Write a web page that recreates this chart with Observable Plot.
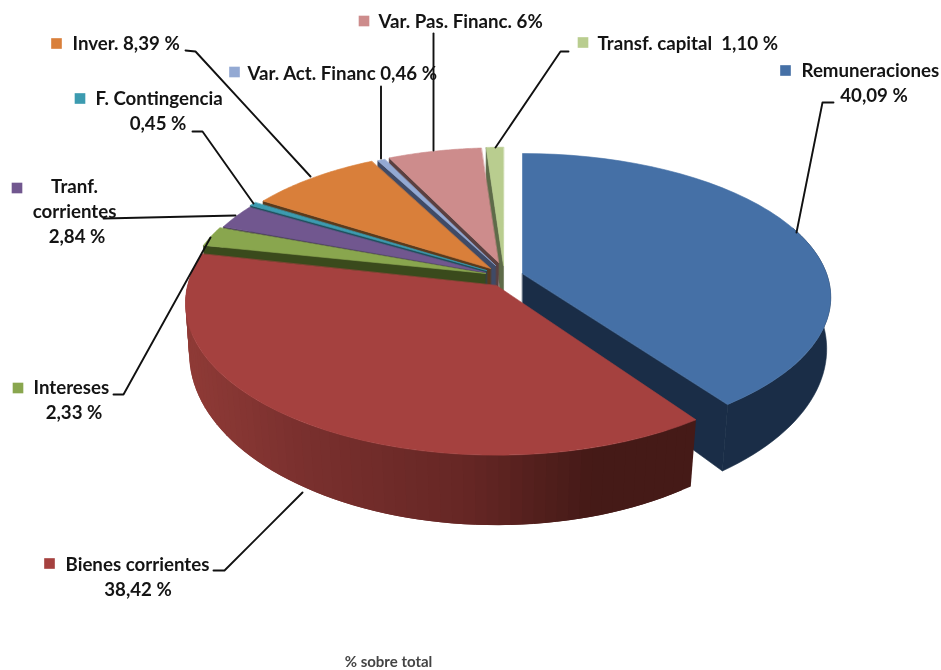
<!DOCTYPE html>
<html><head><meta charset="utf-8">
<style>html,body{margin:0;padding:0;background:#fff}svg{display:block}</style>
<script src="https://cdn.jsdelivr.net/npm/d3@7"></script>
<script src="https://cdn.jsdelivr.net/npm/@observablehq/plot@0.6"></script>
</head><body><div id="chart"></div>
<script>
// ---- data (clockwise from the top of the pie)
const categories = ["Remuneraciones","Bienes corrientes","Intereses","Tranf. corrientes","F. Contingencia","Inver.","Var. Act. Financ","Var. Pas. Financ.","Transf. capital"];
const shares = [40.09,38.42,2.33,2.84,0.45,8.39,0.46,6,1.10];

// ---- styles
const topColors  = ["#4570a6","#a5413f","#89a64e","#71578f","#3c9bb0","#d97f3a","#93a9d3","#cd8c8c","#b9cd8f"];
const wallColors = ["#1a2d47","#451a17","#3a4a1c","#3c2d50","#1f4f5c","#5a3a1c","#3f4a66","#5b4040","#5e6b49"];

// ---- pie geometry: apex, radii and perspective of each exploded slice
const geometry = [
  {cx:522,cy:273,A:304,B:139.8,k:.165},
  {cx:496,cy:285,A:309,B:150,k:.116},
  {cx:485,cy:273,A:296,B:134,k:.116},
  {cx:485,cy:272,A:292,B:134,k:.116},
  {cx:486,cy:270,A:292,B:134,k:.116},
  {cx:490,cy:268,A:287,B:133,k:.116},
  {cx:495,cy:265,A:284,B:130,k:.116},
  {cx:498,cy:262,A:280,B:128,k:.116},
  {cx:503,cy:265,A:280,B:132,k:.116}
];
const rad = Math.PI/180;
const topPoint = (g,a) => {
  const u = Math.sin(a*rad), v = Math.cos(a*rad), w = 1+g.k*v;
  return [g.cx+g.A*u/w, g.cy-g.B*v/w];
};
const botPoint = (g,a) => {
  const [x,y] = topPoint(g,a), v = Math.cos(a*rad);
  return [g.cx+(x-g.cx)*(.99+.02*v), y+52-18*v];
};
const botApex = g => [g.cx, g.cy+52];

const total = d3.sum(shares);
const ends = d3.cumsum(shares).map(c => c/total*360);
const starts = ends.map((e,i) => i ? ends[i-1] : 0);
const arc = (a0,a1,f,g) => d3.range(0,41).map(i => f(g,a0+(a1-a0)*i/40));

// ---- build filled faces, back to front
let fid = 0;
const face = (list,pts,fill) => { fid++; for (const [x,y] of pts) list.push({id:fid,x,y,fill}); };
const backFaces = [], bands = [], frontFaces = [];
const topFace = (list,i) => face(list,[[geometry[i].cx,geometry[i].cy], ...arc(starts[i],ends[i],topPoint,geometry[i])], topColors[i]);

// Remuneraciones: outer wall, cut wall, top
{
  const g = geometry[0];
  face(backFaces,[...arc(70,ends[0],topPoint,g), ...arc(70,ends[0],botPoint,g).reverse()], wallColors[0]);
  face(backFaces,[[g.cx,g.cy], topPoint(g,ends[0]), botPoint(g,ends[0]), botApex(g)], wallColors[0]);
  topFace(backFaces,0);
}
// small slices, last to first: cut wall then top
for (let i = categories.length-1; i >= 2; i--) {
  const g = geometry[i];
  face(backFaces,[[g.cx,g.cy], topPoint(g,starts[i]), botPoint(g,starts[i]), botApex(g)], wallColors[i]);
  topFace(backFaces,i);
}
// Bienes corrientes: shaded wall (bands overlap so no seams), then top
{
  const g = geometry[1];
  const shade = d3.scaleLinear().domain([190,300,470,590,690]).range(["#8e3a36","#7a302e","#652624","#451a17","#451a17"]);
  const n = 70, a0 = starts[1], a1 = 282, step = (a1-a0)/n;
  for (let j = 0; j < n; j++) {
    const p = a0+step*j, q = j < n-1 ? p+step*2 : p+step;
    const [mx] = topPoint(g,p+step/2);
    face(bands,[topPoint(g,p),topPoint(g,q),botPoint(g,q),botPoint(g,p)], shade(mx));
  }
  topFace(frontFaces,1);
}

// ---- annotation layout
const leaders = [
  {n:"Remuneraciones",p:[[833,102],[822,102],[796,232]]},
  {n:"Bienes",p:[[213,570],[224,570],[302,492]]},
  {n:"Intereses",p:[[113,394],[123,394],[210,237]]},
  {n:"Tranf",p:[[103,218],[235,215]]},
  {n:"F. Cont",p:[[192,131],[202,131],[253,203]]},
  {n:"Inver",p:[[185,50],[195,51],[310,176]]},
  {n:"Var Act",p:[[380.5,86],[380.5,158]]},
  {n:"Var Pas",p:[[433,33],[433,150]]},
  {n:"Transf",p:[[568,51],[560,51],[495,147]]}
].flatMap(l => l.p.map(([x,y]) => ({n:l.n,x,y})));

const keys = [
  {i:0,x:785,y:70},{i:1,x:49,y:563},{i:2,x:17.5,y:387.5},{i:3,x:16.5,y:187.5},
  {i:4,x:79.5,y:98},{i:5,x:56,y:43},{i:6,x:234,y:71.5},{i:7,x:363.5,y:20.5},{i:8,x:582.5,y:42}
];
const startLabels = [
  {t:"Remuneraciones",x:801,y:71},{t:"Bienes corrientes",x:65,y:565},{t:"Intereses",x:33,y:388},
  {t:"F. Contingencia",x:95,y:99},{t:"Inver. 8,39 %",x:72,y:44},{t:"Var. Act. Financ 0,46 %",x:247,y:74},
  {t:"Var. Pas. Financ. 6%",x:378,y:22},{t:"Transf. capital  1,10 %",x:597,y:44}
];
const midLabels = [
  {t:"40,09 %",x:873.5,y:96},{t:"38,42 %",x:137.5,y:590},{t:"2,33 %",x:73.5,y:413},
  {t:"Tranf.",x:74,y:187},{t:"corrientes",x:74,y:212},{t:"2,84 %",x:76.5,y:237},{t:"0,45 %",x:157.5,y:124}
];
const font = "Lato, Carlito, sans-serif";
const textOpts = {x:"x",y:"y",text:"t",fontSize:18.7,fontWeight:700,fill:"#141414",fontFamily:font,lineAnchor:"middle"};
const faceOpts = {x:"x",y:"y",z:"id",fill:"fill",curve:"linear-closed"};

document.getElementById("chart").append(Plot.plot({
  width:941,height:670,margin:0,
  style:{background:"#fff",filter:"blur(0.5px)"},
  x:{domain:[0,941],range:[0,941],axis:null},
  y:{domain:[0,670],range:[0,670],axis:null},
  color:{type:"identity"},
  marks:[
    Plot.line(backFaces,{...faceOpts,stroke:"fill",strokeWidth:.6}),
    Plot.line(bands,{...faceOpts,stroke:"none"}),
    Plot.line(frontFaces,{...faceOpts,stroke:"fill",strokeWidth:.6}),
    Plot.line(leaders,{x:"x",y:"y",z:"n",stroke:"#111",strokeWidth:1.9,curve:"linear"}),
    Plot.dot(keys,{x:"x",y:"y",r:6,symbol:"square",fill:d=>topColors[d.i],stroke:"none"}),
    Plot.text(startLabels,{...textOpts,textAnchor:"start"}),
    Plot.text(midLabels,{...textOpts,textAnchor:"middle"}),
    Plot.text(["% sobre total"],{x:()=>388,y:()=>662,text:d=>d,fontSize:15,fontWeight:700,fill:"#444",fontFamily:font,textAnchor:"middle",lineAnchor:"middle"})
  ]
}));
</script></body></html>
